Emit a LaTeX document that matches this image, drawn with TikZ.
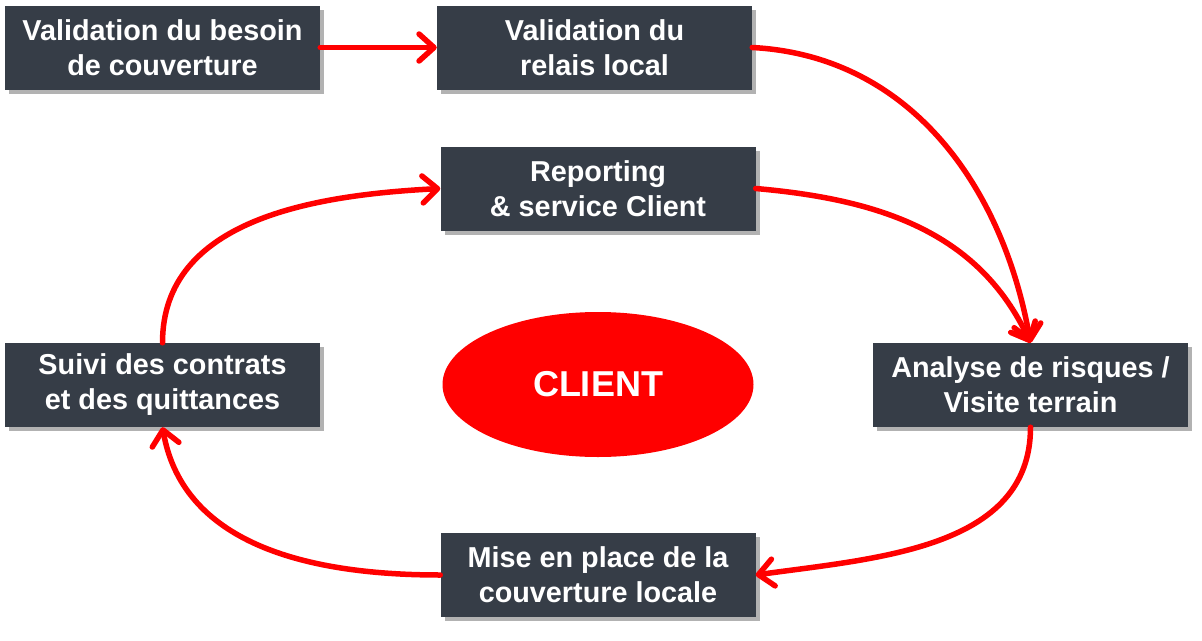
\documentclass[tikz,border=0pt]{standalone}
\usepackage{fontspec}
\setmainfont{Liberation Sans}
\usetikzlibrary{arrows.meta,shadows,shapes.geometric}
\definecolor{boxfill}{HTML}{363D47}
\definecolor{arrowred}{HTML}{FF0000}
\begin{document}
\begin{tikzpicture}[x=1pt,y=-1pt,
  stepbox/.style={rectangle, fill=boxfill, minimum width=315pt, minimum height=84pt,
    text=white, font=\fontsize{28.8}{35}\selectfont\bfseries, align=center, inner sep=0pt,
    drop shadow={shadow xshift=4pt, shadow yshift=-4pt, opacity=0.3, fill=black}},
  flow/.style={draw=arrowred, line width=5.5pt, line cap=round,
    -{Straight Barb[length=15pt,width=27pt,line width=5.5pt,line cap=round,round]}}
]
\useasboundingbox (0,0) rectangle (1202,640);
\node[stepbox] (b1) at (162.5,47.5) {Validation du besoin\\de couverture};
\node[stepbox] (b2) at (594.5,47.5) {Validation du\\relais local};
\node[stepbox] (b3) at (598,188.5) {Reporting\\\& service Client};
\node[stepbox] (b4) at (162.5,385) {Suivi des contrats\\et des quittances};
\node[stepbox] (b5) at (1030.5,385) {Analyse de risques /\\Visite terrain};
\node[stepbox] (b6) at (598,575) {Mise en place de la\\couverture locale};
\node[ellipse, fill=arrowred, minimum width=311pt, minimum height=145pt, text=white,
  font=\fontsize{36}{40}\selectfont\bfseries] (cl) at (598,384.5) {CLIENT};
\draw[flow] (b1.east) -- (b2.west);
\draw[flow] (b2.east) to[out=-3, in=100] (b5.north);
\draw[flow] (b3.east) to[out=-5, in=115] (b5.north);
\draw[flow] (b5.south) to[out=-90, in=8] (b6.east);
\draw[flow] (b6.west) to[out=180, in=-80] (b4.south);
\draw[flow] (b4.north) to[out=90, in=183] (b3.west);
\end{tikzpicture}
\end{document}
